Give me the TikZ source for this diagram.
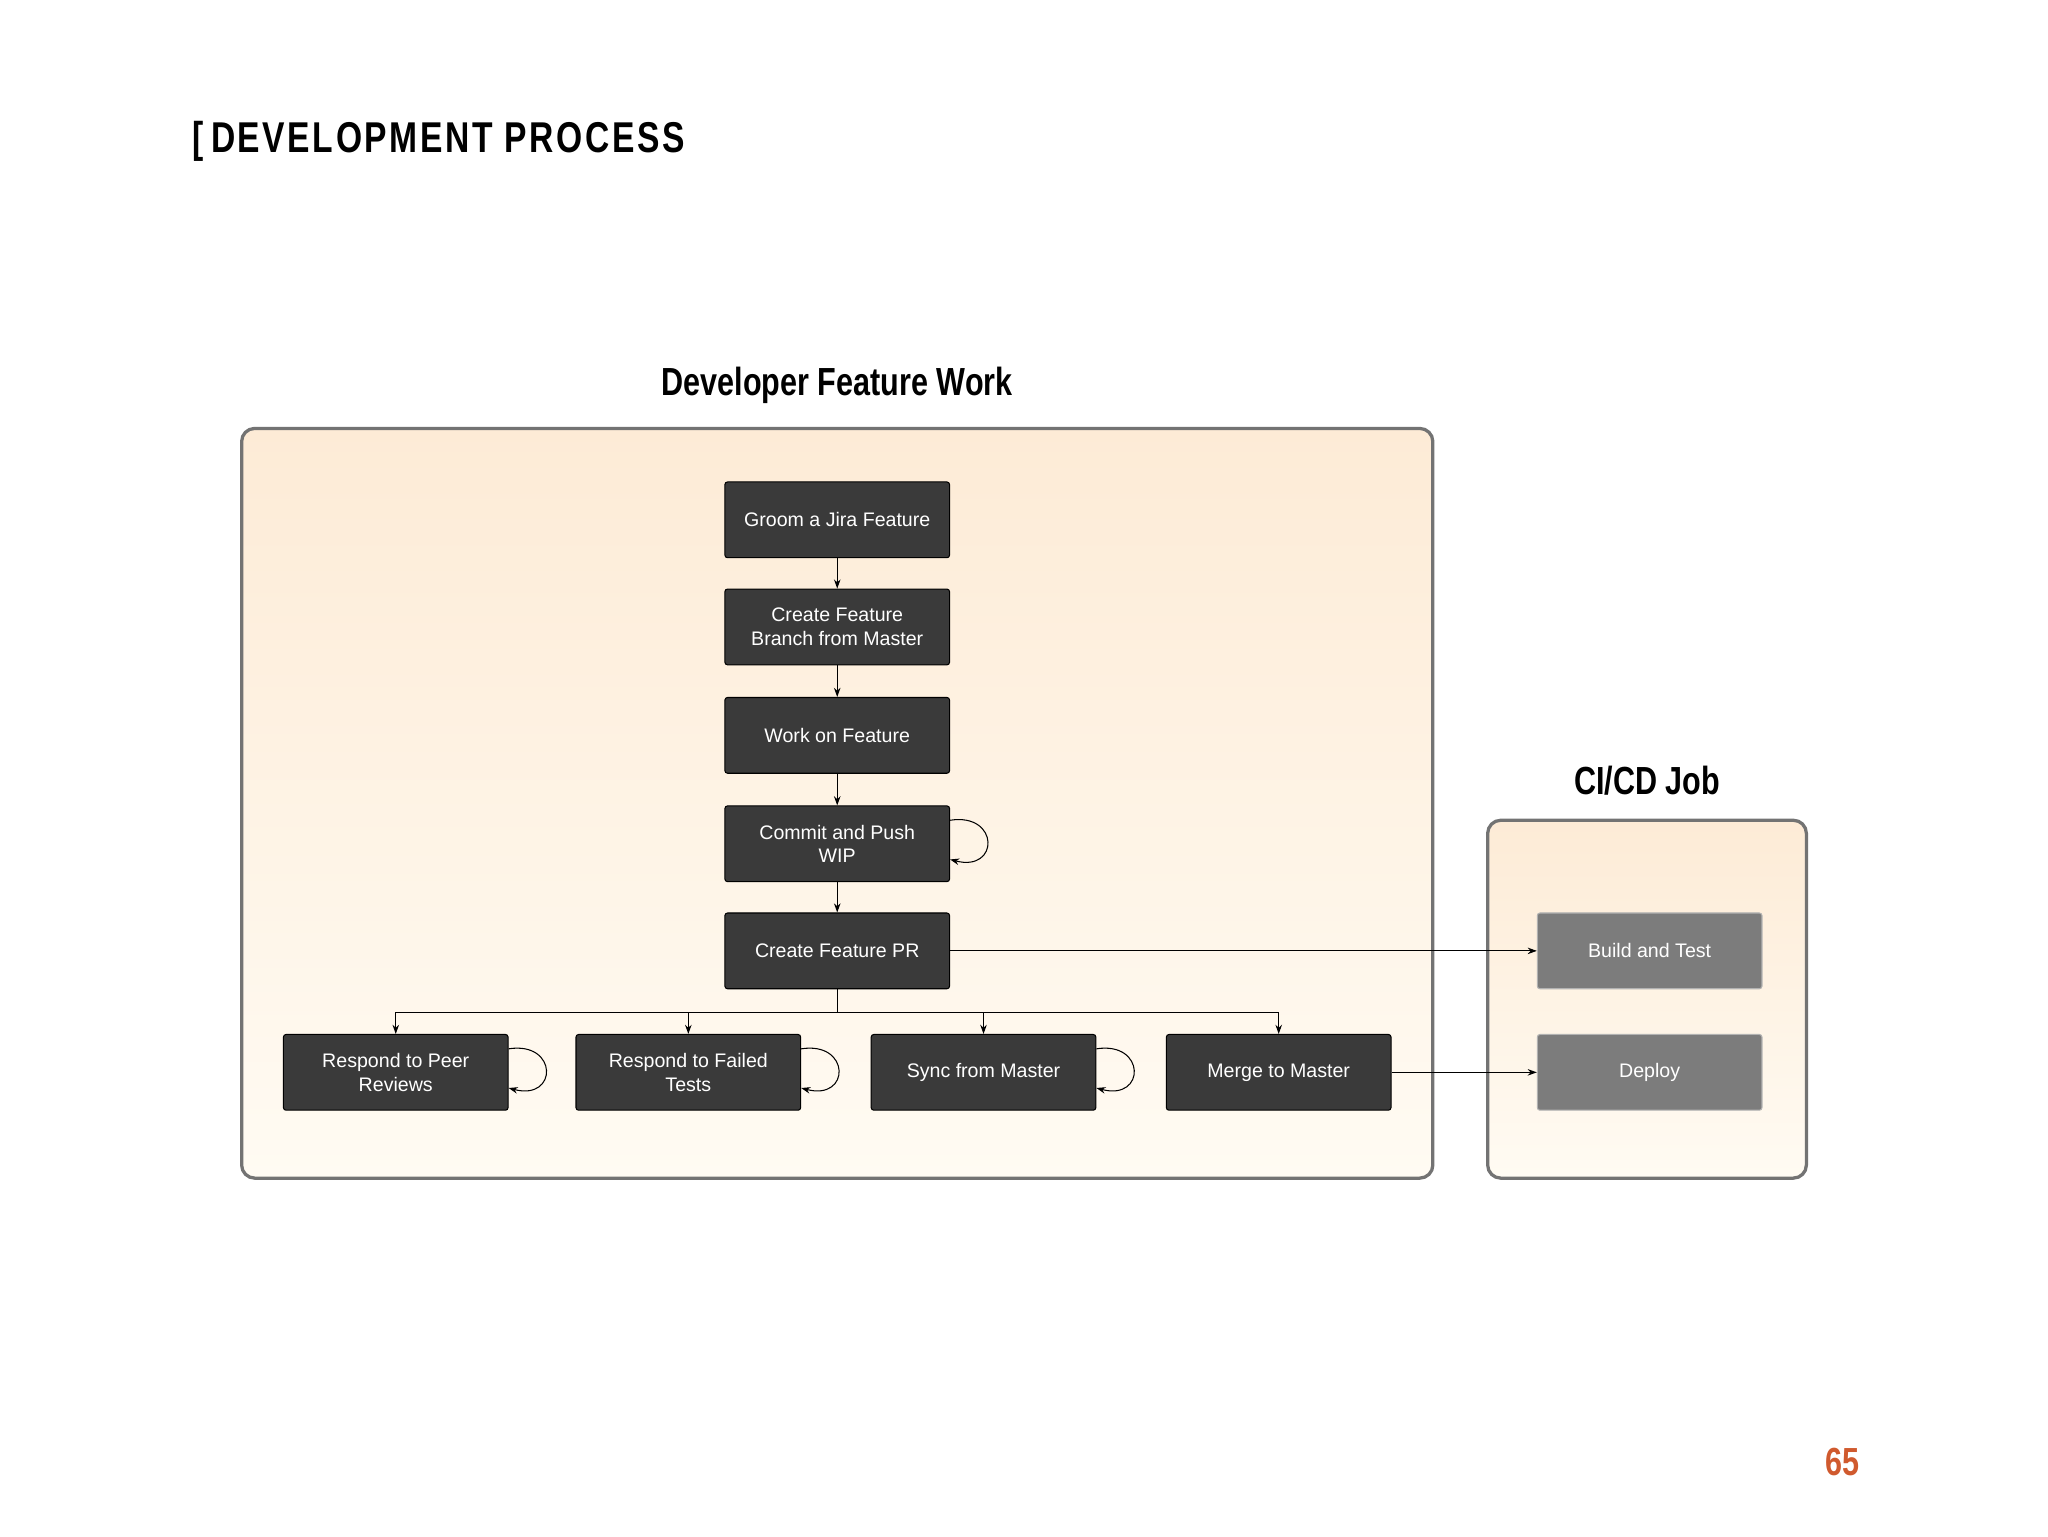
\documentclass[tikz,border=0pt]{standalone}
\usepackage{fontspec}
\setmainfont{Liberation Sans}
\newfontfamily\cond{Liberation Sans}[FakeStretch=0.78]
\usetikzlibrary{arrows.meta,positioning}
\definecolor{boxtop}{HTML}{FDEBD6}
\definecolor{boxbot}{HTML}{FFFBF3}
\definecolor{nodegray}{HTML}{3A3A3A}
\definecolor{lightgray}{HTML}{7C7C7C}
\definecolor{pgnum}{HTML}{D05A2E}
\tikzset{
  frame/.style={draw=gray!90!black, line width=2.5pt, rounded corners=10pt, top color=boxtop, bottom color=boxbot},
  proc/.style={draw=black, line width=0.8pt, fill=nodegray, rounded corners=2pt, minimum width=172pt, minimum height=58pt, text=white, font=\fontsize{15}{18}\selectfont, align=center},
  ci/.style={proc, fill=lightgray, draw=gray!60},
  arr/.style={-{Stealth[length=7pt,width=5pt]}, line width=0.8pt},
  title/.style={font=\cond\bfseries\fontsize{30}{34}\selectfont}
}
\begin{document}
\begin{tikzpicture}[x=1pt,y=-1pt]
\useasboundingbox (0,0) rectangle (1568,1176);
\node[anchor=west, font=\cond\bfseries\fontsize{33}{36}\selectfont] (hdr) at (144,108) {[\,\addfontfeature{LetterSpace=6}DEVELOPMENT PROCESS};
\node[title] (t1) at (641,295) {Developer Feature Work};
\node[title] (t2) at (1261,598) {CI/CD Job};
\path[frame] (185,328) rectangle (1097,902);
\path[frame] (1139,628) rectangle (1383,902);
\node[proc] (groom) at (641,398) {Groom a Jira Feature};
\node[proc] (branch) at (641,480) {Create Feature\\Branch from Master};
\node[proc] (work) at (641,563) {Work on Feature};
\node[proc] (commit) at (641,646) {Commit and Push\\WIP};
\node[proc] (pr) at (641,728) {Create Feature PR};
\node[proc] (peer) at (303,821) {Respond to Peer\\Reviews};
\node[proc] (failed) at (527,821) {Respond to Failed\\Tests};
\node[proc] (sync) at (753,821) {Sync from Master};
\node[proc] (merge) at (979,821) {Merge to Master};
\node[ci] (build) at (1263,728) {Build and Test};
\node[ci] (deploy) at (1263,821) {Deploy};
\coordinate (bus) at (641,775);
\draw[arr] (groom) -- (branch);
\draw[arr] (branch) -- (work);
\draw[arr] (work) -- (commit);
\draw[arr] (commit) -- (pr);
\draw[line width=0.8pt] (pr) -- (bus);
\foreach \n in {peer,failed,sync,merge} \draw[arr] (bus) -| (\n);
\draw[arr] (pr) -- (build);
\draw[arr] (merge) -- (deploy);
\foreach \n in {commit,peer,failed,sync}
  \draw[arr] ([yshift=18pt]\n.east) .. controls +(38,-6) and +(38,10) .. ([yshift=-12pt]\n.east);
\node[text=pgnum, font=\cond\bfseries\fontsize{30}{34}\selectfont] (pg) at (1411,1119) {65};
\end{tikzpicture}
\end{document}
